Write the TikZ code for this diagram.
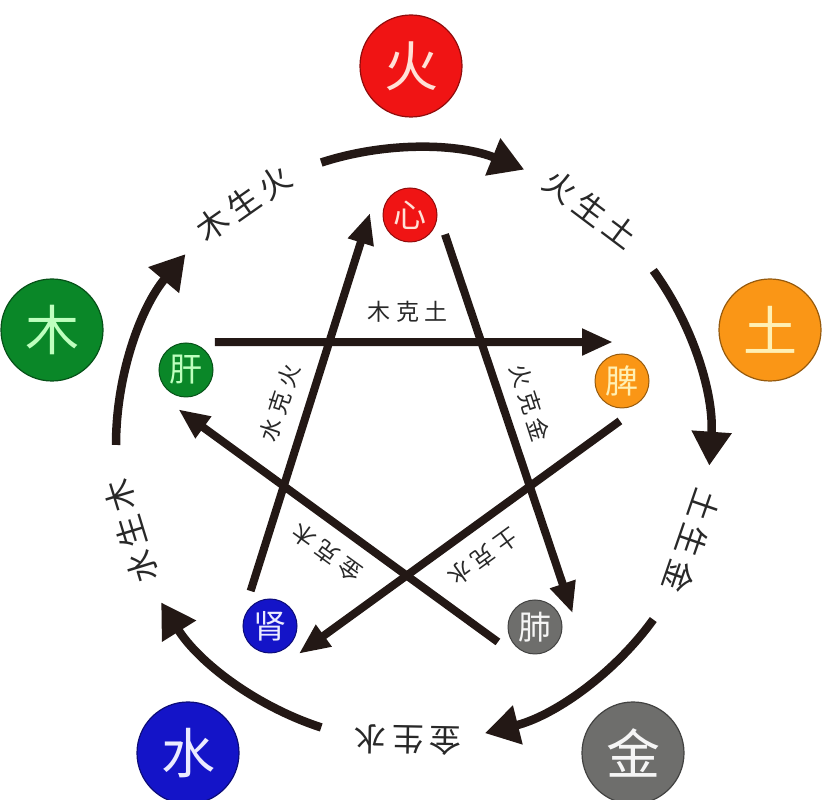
\documentclass[tikz,border=0pt]{standalone}
\usepackage{fontspec}
\usepackage{xcolor}
\usepackage{tikz}
\usetikzlibrary{arrows.meta}
\newfontfamily\cjk{Noto Sans CJK SC}
\newfontfamily\cjkwide[LetterSpace=17]{Noto Sans CJK SC}
\newfontfamily\cjkke[LetterSpace=24]{Noto Sans CJK SC}

\definecolor{arrowblack}{RGB}{35,24,21}
\definecolor{labelgray}{RGB}{40,40,40}
\definecolor{firered}{RGB}{240,20,20}
\definecolor{earthorange}{RGB}{250,150,22}
\definecolor{woodgreen}{RGB}{10,135,40}
\definecolor{waterblue}{RGB}{20,20,200}
\definecolor{metalgray}{RGB}{110,110,108}
\definecolor{firetext}{RGB}{255,225,215}
\definecolor{earthtext}{RGB}{255,240,180}
\definecolor{woodtext}{RGB}{190,255,190}
\definecolor{watertext}{RGB}{235,235,255}
\definecolor{metaltext}{RGB}{245,245,245}

\tikzset{
  element/.style={circle,minimum size=102pt,inner sep=0pt,fill=#1,draw=#1!60!black,line width=1.2pt,
    font=\cjk\fontsize{54}{60}\selectfont},
  organ/.style={circle,minimum size=54pt,inner sep=0pt,outer sep=13pt,fill=#1,draw=#1!60!black,line width=1pt,
    font=\cjk\fontsize{33}{36}\selectfont},
  ke/.style={draw=arrowblack,line width=8pt,-{Triangle[length=31pt,width=25pt]}},
  sheng/.style={draw=arrowblack,line width=8.5pt,-{Triangle[length=34pt,width=38pt]}},
  shenglabel/.style={text=labelgray,inner sep=0pt,font=\cjkwide\fontsize{32}{36}\selectfont},
  kelabel/.style={text=labelgray,inner sep=0pt,font=\cjkke\fontsize{23}{26}\selectfont},
}

\begin{document}
\begin{tikzpicture}[x=1pt,y=1pt]
\useasboundingbox (0,0) rectangle (823,800);

% five elements
\node[element=firered,text=firetext] (huo) at (411,734) {火};
\node[element=earthorange,text=earthtext] (tu) at (770,470) {土};
\node[element=woodgreen,text=woodtext] (mu) at (52,470) {木};
\node[element=waterblue,text=watertext] (shui) at (188,47) {水};
\node[element=metalgray,text=metaltext] (jin) at (633,47) {金};

% organs
\node[organ=firered,text=firetext] (xin) at (410,585) {心};
\node[organ=earthorange,text=earthtext] (pi) at (622,419) {脾};
\node[organ=woodgreen,text=woodtext] (gan) at (186,430) {肝};
\node[organ=waterblue,text=watertext] (shen) at (270,174) {肾};
\node[organ=metalgray,text=metaltext] (fei) at (535,173) {肺};

% sheng cycle
\coordinate (ring) at (413,355);
\foreach \a in {108,36,-36,-108,-180}
  \draw[sheng] ([shift={(\a:297)}]ring) arc[start angle=\a,end angle=\a-40,radius=297];
\foreach \a/\n/\t in {125/mushenghuo/木生火,53/huoshengtu/火生土,-19/tushengjin/土生金,
    -91/jinshengshui/金生水,-163/shuishengmu/水生木}
  \node[shenglabel,rotate=\a-90] (\n) at ([shift={(\a:295)}]ring) {\t};

% ke cycle
\draw[ke] (gan.44) -- (pi.103);
\draw[ke] (xin.-29) -- (fei.20);
\draw[ke] (shen.119) -- (xin.177);
\draw[ke] (fei.202) -- (gan.259);
\draw[ke] (pi.267) -- (shen.-44);

\node[kelabel] (muketu) at (408,488) {木克土};
\node[kelabel,rotate=72] (shuikehuo) at (280,397) {水克火};
\node[kelabel,rotate=-72] (huokejin) at (530,397) {火克金};
\node[kelabel,rotate=144] (jinkemu) at (327,247) {金克木};
\node[kelabel,rotate=216] (tukeshui) at (483,243) {土克水};

\end{tikzpicture}
\end{document}
